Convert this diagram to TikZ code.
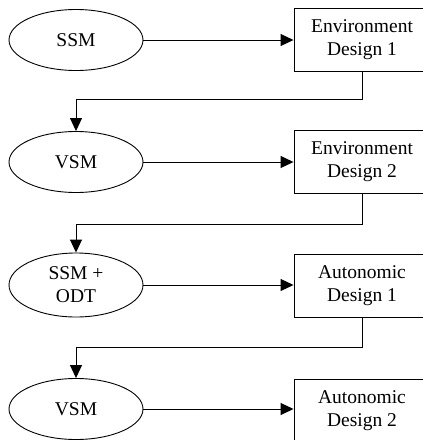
\documentclass[tikz,border=0pt]{standalone}
\usepackage{fontspec}
\setmainfont{Liberation Serif}
\usetikzlibrary{shapes.geometric,arrows.meta,positioning}

\begin{document}
\begin{tikzpicture}[x=1pt, y=-1pt]
			\tikzstyle{Model}	= [ellipse, draw, line width=0.9pt, minimum width=134pt, minimum height=61pt, inner sep=0pt, align=center, font=\fontsize{19.5}{23}\selectfont]
			\tikzstyle{Design}	= [rectangle, draw, line width=0.9pt, minimum width=136pt, minimum height=63pt, inner sep=0pt, align=center, font=\fontsize{19.5}{23}\selectfont]
			\tikzstyle{Flow}	= [line width=0.9pt, -{Triangle[length=13pt, width=12pt]}]

			\clip (0,0) rectangle (423,440);

			\node (m1) at (76,40) [Model] {SSM};
			\node (m2) at (76,162) [Model] {VSM};
			\node (m3) at (76,285) [Model, minimum height=64pt] {SSM +\\ODT};
			\node (m4) at (76,409) [Model] {VSM};

			\node (d1) at (362,39.5) [Design] {Environment\\Design 1};
			\node (d2) at (362,162) [Design] {Environment\\Design 2};
			\node (d3) at (362,286) [Design] {Autonomic\\Design 1};
			\node (d4) at (362,410.5) [Design] {Autonomic\\Design 2};

			\draw [Flow] (m1.east) to (m1.east -| d1.west);
			\draw [Flow] (m2.east) to (m2.east -| d2.west);
			\draw [Flow] (m3.east) to (m3.east -| d3.west);
			\draw [Flow] (m4.east) to (m4.east -| d4.west);

			\draw [Flow] (d1.south) -- ++(0,28) -| (m2.north);
			\draw [Flow] (d2.south) -- ++(0,30) -| (m3.north);
			\draw [Flow] (d3.south) -- ++(0,29) -| (m4.north);
		\end{tikzpicture}
\end{document}
